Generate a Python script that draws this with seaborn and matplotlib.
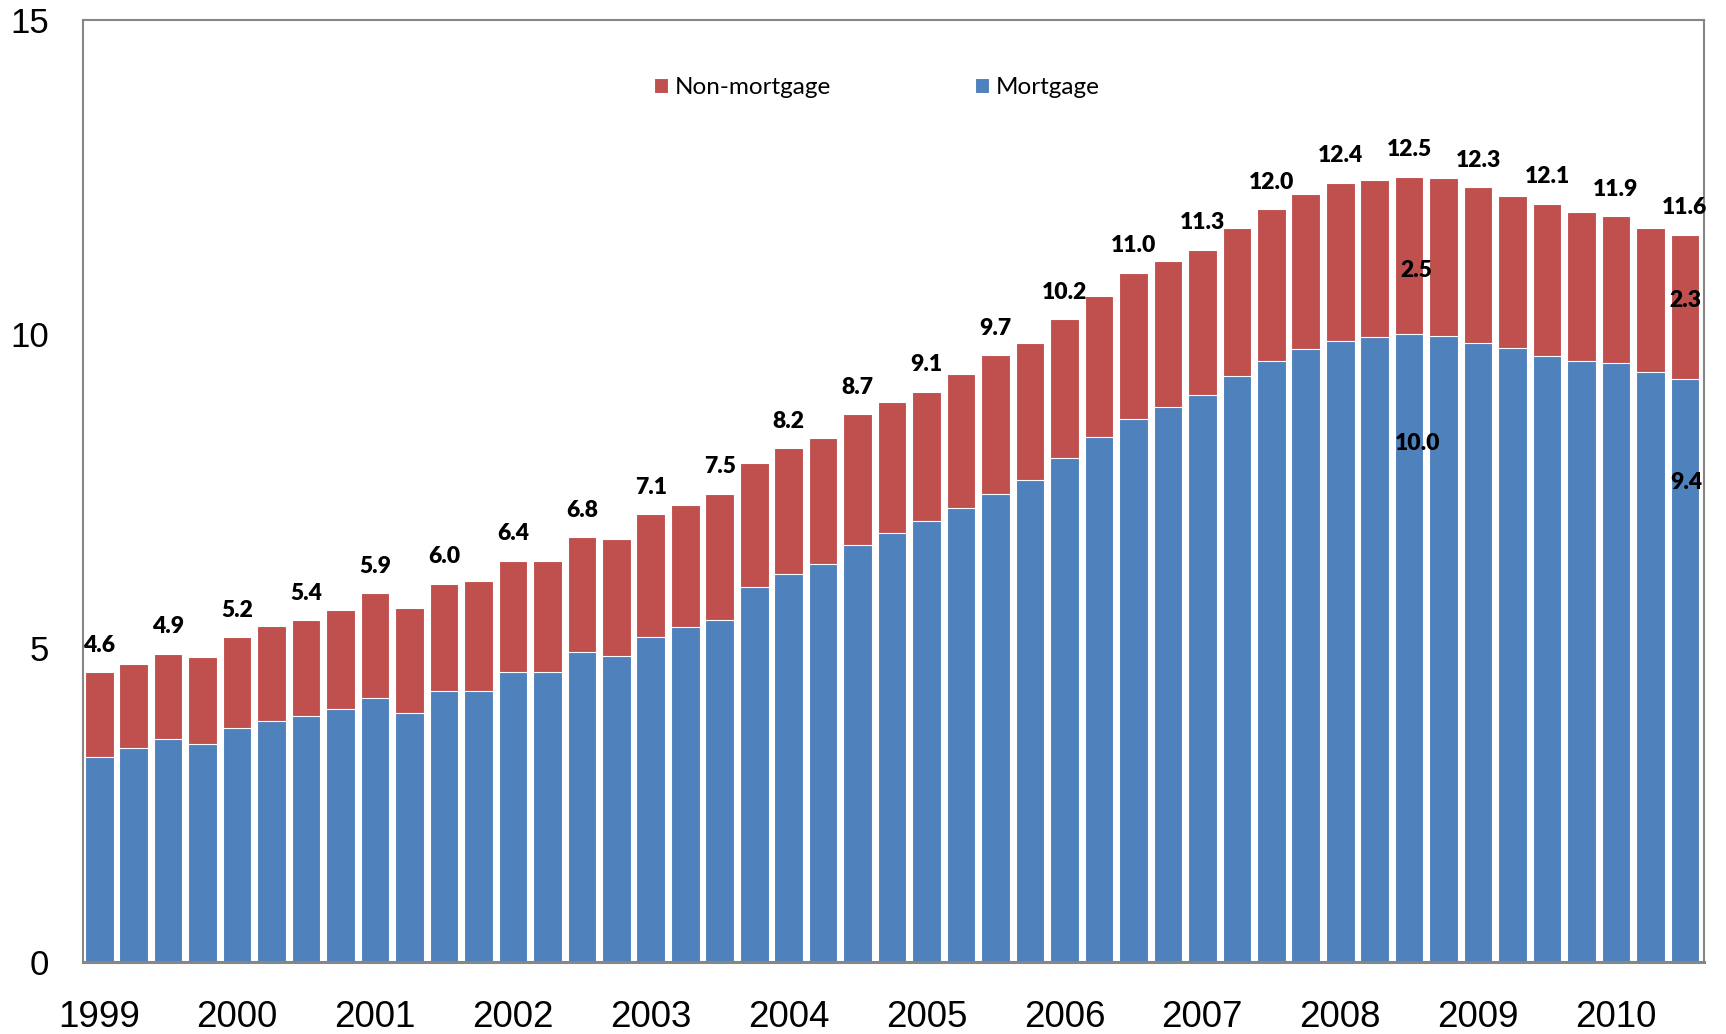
import numpy as np
import pandas as pd
import matplotlib
matplotlib.use("Agg")
import matplotlib.pyplot as plt
import seaborn as sns

# quarterly, 1999Q1 .. 2010Q3 (trillions)
quarters = [f"{y}Q{q}" for y in range(1999, 2011) for q in range(1, 5)][:47]
total = [4.61, 4.74, 4.91, 4.86, 5.17, 5.35, 5.44, 5.61, 5.87, 5.63,
         6.02, 6.06, 6.39, 6.39, 6.76, 6.73, 7.13, 7.27, 7.45, 7.95,
         8.18, 8.34, 8.72, 8.92, 9.08, 9.36, 9.66, 9.86, 10.23, 10.60,
         10.97, 11.16, 11.34, 11.68, 11.98, 12.23, 12.40, 12.45, 12.50, 12.48,
         12.33, 12.20, 12.07, 11.94, 11.87, 11.69, 11.58]
mortgage = [3.27, 3.40, 3.55, 3.47, 3.73, 3.83, 3.92, 4.02, 4.20, 3.97,
            4.32, 4.32, 4.62, 4.61, 4.94, 4.87, 5.18, 5.34, 5.45, 5.97,
            6.17, 6.34, 6.64, 6.83, 7.02, 7.23, 7.45, 7.67, 8.02, 8.35,
            8.65, 8.83, 9.02, 9.33, 9.56, 9.75, 9.89, 9.95, 9.99, 9.96,
            9.86, 9.77, 9.65, 9.56, 9.54, 9.39, 9.28]
top_labels = ["4.6", "4.9", "5.2", "5.4", "5.9", "6.0", "6.4", "6.8", "7.1", "7.5",
              "8.2", "8.7", "9.1", "9.7", "10.2", "11.0", "11.3", "12.0", "12.4",
              "12.5", "12.3", "12.1", "11.9", "11.6"]
years = [str(y) for y in range(1999, 2011)]

df = pd.DataFrame({"quarter": quarters, "total": total, "mortgage": mortgage})

red = "#C0504D"
blue = "#4F81BD"
grey = "#868686"

sns.set_style("white")
plt.rcParams["font.family"] = ["Liberation Sans", "DejaVu Sans"]
plt.rcParams["text.color"] = "black"

fig = plt.figure(figsize=(17.26, 10.34), dpi=100)
ax = fig.add_axes([0.0479, 0.0696, 0.987 - 0.0479, 0.981 - 0.0696])

# stacked look: full bar in red, mortgage part drawn over it in blue
sns.barplot(data=df, x="quarter", y="total", color=red, saturation=1, width=0.83,
            edgecolor="white", linewidth=0.8, label="Non-mortgage", ax=ax)
sns.barplot(data=df, x="quarter", y="mortgage", color=blue, saturation=1, width=0.83,
            edgecolor="white", linewidth=0.8, label="Mortgage", ax=ax)

lab_font = dict(family=["Lato", "DejaVu Sans"], fontweight="heavy", fontsize=16.5,
                color="black")
for i, txt in zip(range(0, len(total), 2), top_labels):
    ax.annotate(txt, (i, total[i]), xytext=(0, 19.5), textcoords="offset points",
                ha="center", va="center", **lab_font)

# component labels inside the peak and last bars
ax.text(38.2, 11.0, "2.5", ha="center", va="center", **lab_font)
ax.text(38.25, 8.25, "10.0", ha="center", va="center", **lab_font)
ax.text(46.0, 10.53, "2.3", ha="center", va="center", **lab_font)
ax.text(46.05, 7.64, "9.4", ha="center", va="center", **lab_font)

ax.set_xlim(-0.48, 46.54)
ax.set_ylim(0, 15)
ax.set_yticks([0, 5, 10, 15])
ax.set_xticks(range(0, 47, 4))
ax.set_xticklabels(years)
ax.set_xlabel("")
ax.set_ylabel("")
ax.tick_params(axis="y", direction="in", length=9, width=1.5, color=grey,
               labelsize=25, pad=24, labelcolor="black")
ax.tick_params(axis="x", length=0, labelsize=26.5, pad=27, labelcolor="black")

for side in ["left", "top", "right"]:
    ax.spines[side].set_color(grey)
    ax.spines[side].set_linewidth(1.5)
    ax.spines[side].set_visible(True)
ax.spines["bottom"].set_color(grey)
ax.spines["bottom"].set_linewidth(2.2)

leg = ax.legend(loc="center", bbox_to_anchor=(0.49, 0.928), ncol=2, frameon=False,
                prop=dict(family=["Lato", "DejaVu Sans"], size=17.5),
                handlelength=0.58, handleheight=0.58, handletextpad=0.3,
                columnspacing=5.9)
for t in leg.get_texts():
    t.set_color("black")

fig.savefig("out.png", dpi=100)
